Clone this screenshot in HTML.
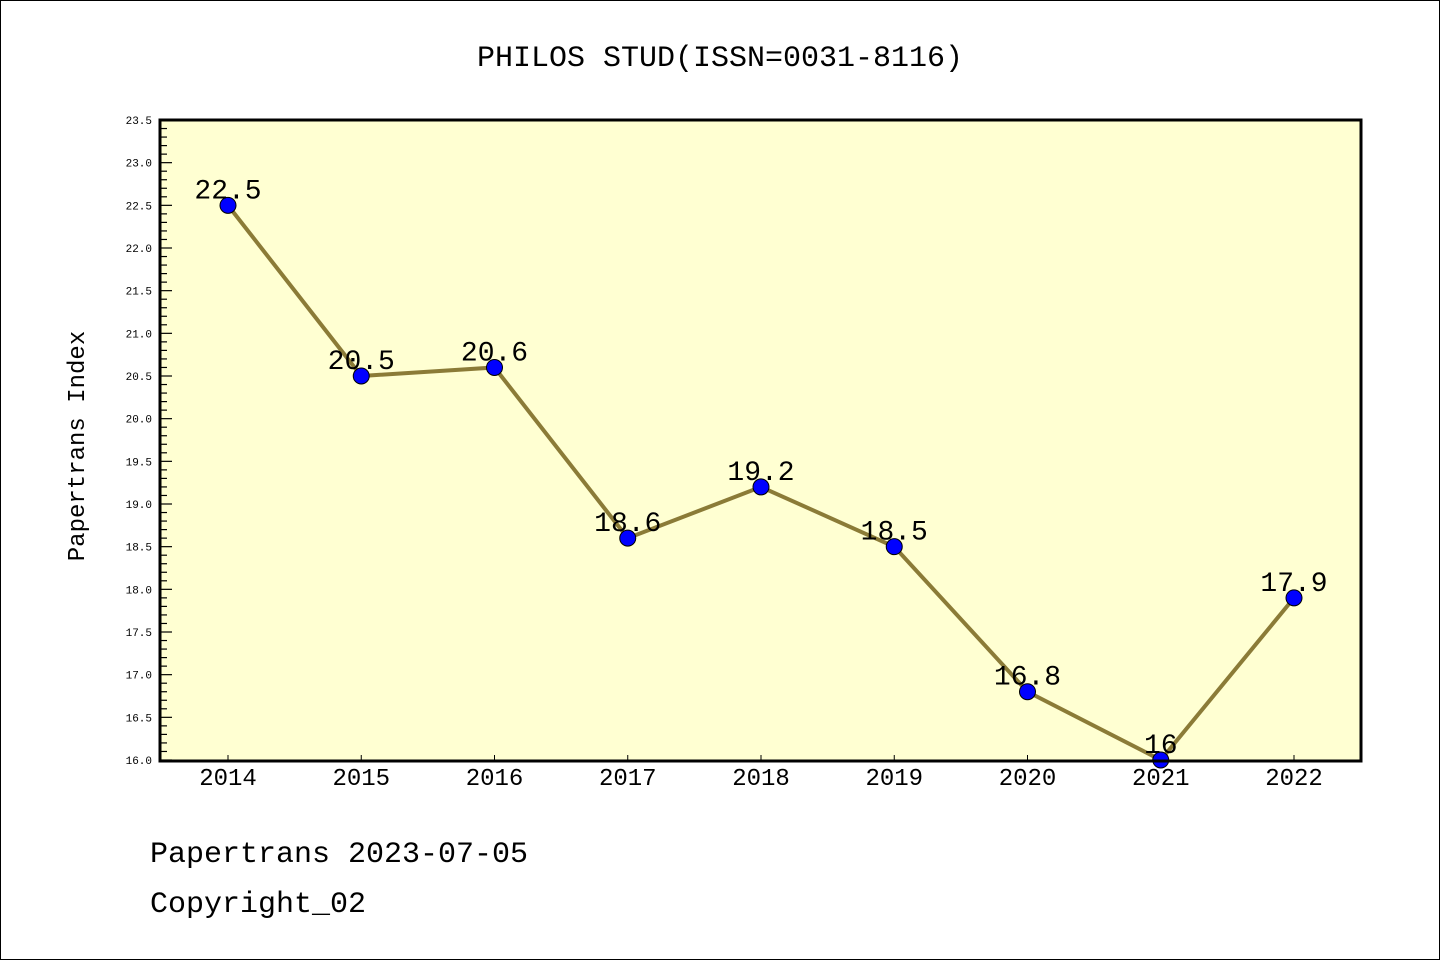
<!DOCTYPE html>
<html><head><meta charset="utf-8"><style>
body{margin:0;background:#fff}
svg{display:block}
text{font-family:"Liberation Mono","Noto Sans CJK SC",monospace}
</style></head><body>
<svg id="chart" width="1440" height="960">
<rect x="0.5" y="0.5" width="1439" height="959" fill="#fff" stroke="#000"/>
<text x="720" y="66" font-size="30" text-anchor="middle">PHILOS STUD(ISSN=0031-8116)</text>
<rect x="160" y="120" width="1201" height="641" fill="#ffffd2"/>
<g id="ticks"></g>
<g id="series"></g>
<rect x="160" y="120" width="1201" height="641" fill="none" stroke="#000" stroke-width="3"/>
<text transform="translate(84,446) rotate(-90)" font-size="24" text-anchor="middle">Papertrans Index</text>
<text x="150" y="862" font-size="30">Papertrans 2023-07-05</text>
<text x="150" y="912" font-size="30">Copyright_02</text>
</svg>
<script>
const years=[2014,2015,2016,2017,2018,2019,2020,2021,2022];
const values=[22.5,20.5,20.6,18.6,19.2,18.5,16.8,16,17.9];
const labels=["22.5","20.5","20.6","18.6","19.2","18.5","16.8","16","17.9"];
const yTicks=["16.0","16.5","17.0","17.5","18.0","18.5","19.0","19.5","20.0","20.5","21.0","21.5","22.0","22.5","23.0","23.5"];
const NS="http://www.w3.org/2000/svg";
const yMin=16,yMax=23.5;
function y(v){return 760-(v-yMin)/(yMax-yMin)*640;}
function x(i){return 228+i*133.25;}
function mk(t,a,p){const e=document.createElementNS(NS,t);for(const k in a)e.setAttribute(k,a[k]);p.appendChild(e);return e;}
const tg=document.getElementById('ticks'),sg=document.getElementById('series');
for(let k=0;k<=75;k++){const v=yMin+k*0.1;const major=k%5===0;
 const l=mk('line',{x1:160,x2:160+(major?12:7),y1:y(v),y2:y(v),stroke:'#000','stroke-width':1.2},tg);
 
 }
yTicks.forEach(s=>{const t=mk('text',{x:152,y:y(parseFloat(s))+4,'font-size':11,'text-anchor':'end'},tg);t.textContent=s;
 
 });
years.forEach((yr,i)=>{const l=mk('line',{x1:x(i),x2:x(i),y1:760,y2:755,stroke:'#000'},tg);
 
 
 const t=mk('text',{x:x(i),y:785,'font-size':24,'text-anchor':'middle'},tg);t.textContent=yr;
 
 });
const line=mk('polyline',{points:values.map((v,i)=>x(i)+','+y(v)).join(' '),fill:'none',stroke:'#8b7b37','stroke-width':4},sg);


values.forEach((v,i)=>{const c=mk('circle',{cx:x(i),cy:y(v),r:8,fill:'#0000ff',stroke:'#000','stroke-width':1},sg);
 
 });
values.forEach((v,i)=>{const t=mk('text',{x:x(i),y:y(v)-7,'font-size':28,'text-anchor':'middle'},sg);t.textContent=labels[i];
 
 });
</script>
</body></html>
